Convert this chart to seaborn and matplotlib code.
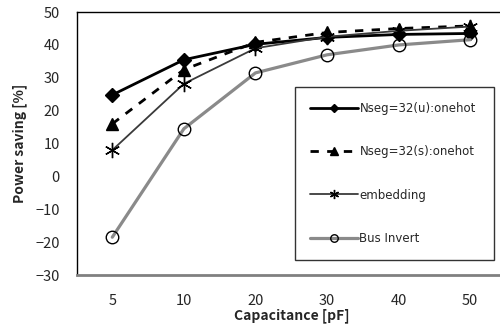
import numpy as np
import pandas as pd
import matplotlib
matplotlib.use("Agg")
import matplotlib.pyplot as plt
import seaborn as sns

# values
capacitance = ["5", "10", "20", "30", "40", "50"]
nseg_u = [24.8, 35.5, 40.2, 42.3, 43.2, 43.5]
nseg_s = [16.0, 32.5, 40.8, 43.8, 45.0, 45.8]
embedding = [8.0, 28.2, 39.0, 42.5, 44.3, 45.6]
bus_invert = [-18.5, 14.5, 31.5, 37.0, 40.0, 41.6]
series_names = ["Nseg=32(u):onehot", "Nseg=32(s):onehot", "embedding", "Bus Invert"]
y_ticks = [-30, -20, -10, 0, 10, 20, 30, 40, 50]

sns.set_style("white")
plt.rcParams['font.family'] = ['Noto Sans CJK JP', 'DejaVu Sans']

df = pd.DataFrame({
    "cap": capacitance * 4,
    "x": list(range(len(capacitance))) * 4,
    "value": nseg_u + nseg_s + embedding + bus_invert,
    "series": np.repeat(series_names, len(capacitance)),
})

fig = plt.figure(figsize=(5.0, 3.27), dpi=100)
ax = fig.add_axes([0.153, 0.159, 0.859, 0.804])

styles = {
    "Nseg=32(u):onehot": dict(color="black", lw=2.0, ls="-", marker="D", ms=7,
                              mfc="black", mec="black"),
    "Nseg=32(s):onehot": dict(color="black", lw=2.0, ls=(0, (3, 3)), marker="^", ms=9,
                              mfc="black", mec="black"),
    "embedding": dict(color="#3a3a3a", lw=1.3, ls="-", marker=(6, 2, 0), ms=11,
                      mfc="black", mec="black", mew=1.0),
    "Bus Invert": dict(color="#8a8a8a", lw=2.3, ls="-", marker="o", ms=9,
                       mfc="none", mec="black", mew=1.0),
}

for name in series_names:
    st = styles[name]
    sub = df[df["series"] == name]
    sns.lineplot(data=sub, x="x", y="value", ax=ax, label=name,
                 color=st["color"], linewidth=st["lw"], linestyle=st["ls"],
                 marker=st["marker"], markersize=st["ms"],
                 markerfacecolor=st["mfc"], markeredgecolor=st["mec"],
                 markeredgewidth=st.get("mew", 1.0))

ax.set_xlim(-0.5, len(capacitance) - 0.5)
ax.set_ylim(-30, 50)
ax.set_xticks(range(len(capacitance)))
ax.set_xticklabels(capacitance)
ax.set_yticks(y_ticks)
ax.tick_params(axis="both", length=0, labelsize=10.5)
ax.tick_params(axis="y", pad=12)
ax.tick_params(axis="x", pad=14)

for side in ["left", "top"]:
    ax.spines[side].set_color("black")
    ax.spines[side].set_linewidth(1.0)
ax.spines["bottom"].set_color("#808080")
ax.spines["bottom"].set_linewidth(2.0)
ax.spines["right"].set_visible(False)

ax.set_xlabel("Capacitance [pF]", fontsize=10, fontweight="bold", labelpad=0)
ax.set_ylabel("Power saving [%]", fontsize=10, fontweight="bold", labelpad=6)

leg = ax.legend(loc="upper left", bbox_to_anchor=(0.509, 0.058, 0.462, 0.657),
                mode="expand", frameon=True, fancybox=False, edgecolor="black",
                prop={"family": "DejaVu Sans", "size": 8.5},
                handlelength=4.0, handletextpad=0.15, labelspacing=2.55,
                borderpad=1.3, borderaxespad=0, markerscale=0.6)
leg.get_frame().set_linewidth(1.0)

fig.savefig("out.png", dpi=100)
